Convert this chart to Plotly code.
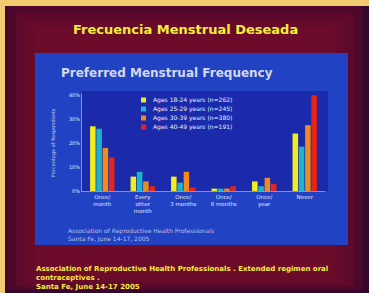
import plotly.graph_objects as go

categories = ["Once/<br>month", "Every<br>other<br>month", "Once/<br>3 months", "Once/<br>6 months", "Once/<br>year", "Never"]
series_names = ["Ages 18-24 years (n=262)", "Ages 25-29 years (n=245)",
                "Ages 30-39 years (n=380)", "Ages 40-49 years (n=191)"]
ages_18_24 = [27, 6, 6, 1, 4, 24]
ages_25_29 = [26, 8, 3.5, 1, 2, 18.5]
ages_30_39 = [18, 4, 8, 1, 5.5, 27.5]
ages_40_49 = [14, 2, 1.5, 2, 3, 40]
colors = ["#f2ee1e", "#1fb4c8", "#f08a1c", "#e62418"]
y_ticks = [0, 10, 20, 30, 40]
y_tick_labels = ["0%", "10%", "20%", "30%", "40%"]

W, H = 369, 293
L, R, T, B = 82, 325, 94, 191  # plot area in pixels

fig = go.Figure()
for name, vals, c in zip(series_names, [ages_18_24, ages_25_29, ages_30_39, ages_40_49], colors):
    fig.add_trace(go.Bar(x=categories, y=vals, name=name, marker_color=c,
                         marker_line_width=0, showlegend=False))

def px(x):
    return (x - L) / (R - L)
def py(y):
    return (B - y) / (B - T)

shapes = []
shapes.append(dict(type="rect", xref="paper", yref="paper", x0=px(0), x1=px(W), y0=py(H), y1=py(0),
                   fillcolor="rgb(55,6,45)", line_width=0, layer="below"))
for i in range(5):
    m = 7 + i * 9
    shapes.append(dict(type="rect", xref="paper", yref="paper",
                       x0=px(m), x1=px(W - m), y0=py(H - m * 0.4), y1=py(m * 0.8),
                       fillcolor="rgb(115,12,42)", opacity=0.4, line_width=0, layer="below"))
# gold border top and left
shapes.append(dict(type="rect", xref="paper", yref="paper", x0=px(0), x1=px(W), y0=py(6), y1=py(0),
                   fillcolor="rgb(242,202,112)", line_width=0, layer="below"))
shapes.append(dict(type="rect", xref="paper", yref="paper", x0=px(0), x1=px(5), y0=py(H), y1=py(0),
                   fillcolor="rgb(242,202,112)", line_width=0, layer="below"))
# blue panel
shapes.append(dict(type="rect", xref="paper", yref="paper", x0=px(35), x1=px(348),
                   y0=py(245), y1=py(53), fillcolor="rgb(34,66,196)", line_width=0, layer="below"))
# darker plot panel
shapes.append(dict(type="rect", xref="paper", yref="paper", x0=px(L), x1=px(328),
                   y0=py(B), y1=py(91), fillcolor="rgb(26,42,170)", line_width=0, layer="below"))

def note(text, x, y, size, color, xanchor="center", align="center", angle=0):
    return dict(text=text, x=px(x), y=py(y), xref="paper", yref="paper", xanchor=xanchor,
                yanchor="middle", align=align, textangle=angle, showarrow=False,
                font=dict(family="DejaVu Sans", size=size, color=color))

ann = []
ann.append(note("<b>Frecuencia Menstrual Deseada</b>", 185, 29, 13, "#f4ee3a"))
ann.append(note("<b>Preferred Menstrual Frequency</b>", 59, 73, 12, "#d4d8ea", xanchor="left"))
ann.append(note("Percentage of Respondents", 53, 143, 5, "#c8cce8", angle=-90))
ann.append(note("Association of Reproductive Health Professionals<br>Santa Fe, June 14-17, 2005",
                66, 235, 6, "#b8c0e8", xanchor="left", align="left"))
ann.append(note("<b>Association of Reproductive Health Professionals . Extended regimen oral<br>contraceptives .<br>Santa Fe, June 14-17 2005</b>",
                34, 278, 7, "#f4ee3a", xanchor="left", align="left"))
# custom legend
for i, (name, c) in enumerate(zip(series_names, colors)):
    yy = 100 + i * 9
    shapes.append(dict(type="rect", xref="paper", yref="paper", x0=px(141), x1=px(146),
                       y0=py(yy + 2.5), y1=py(yy - 2.5), fillcolor=c, line_width=0))
    ann.append(note(name, 151, yy, 6, "#e8ecff", xanchor="left", align="left"))
fig.update_layout(shapes=shapes, annotations=ann)

fig.update_layout(
    width=W, height=H, autosize=False,
    margin=dict(l=L, r=W - R, t=T, b=H - B, pad=0),
    paper_bgcolor="rgb(55,6,45)",
    plot_bgcolor="rgba(0,0,0,0)",
    barmode="group", bargap=0.38, bargroupgap=0.12,
    showlegend=False,
    font=dict(family="DejaVu Sans"),
)
fig.update_xaxes(showgrid=False, showline=True, linecolor="#8090e0", linewidth=1,
                 tickfont=dict(size=5.5, color="#e0e4ff"), ticks="")
fig.update_yaxes(range=[0, 40.5], tickvals=y_ticks, ticktext=y_tick_labels, showgrid=False,
                 showline=True, linecolor="#8090e0", linewidth=1, zeroline=False,
                 tickfont=dict(size=5, color="#e0e4ff"), ticks="")
fig.write_html("out.html", config={"displayModeBar": False},
               post_script="document.body.style.margin='0';document.body.style.overflow='hidden';")
